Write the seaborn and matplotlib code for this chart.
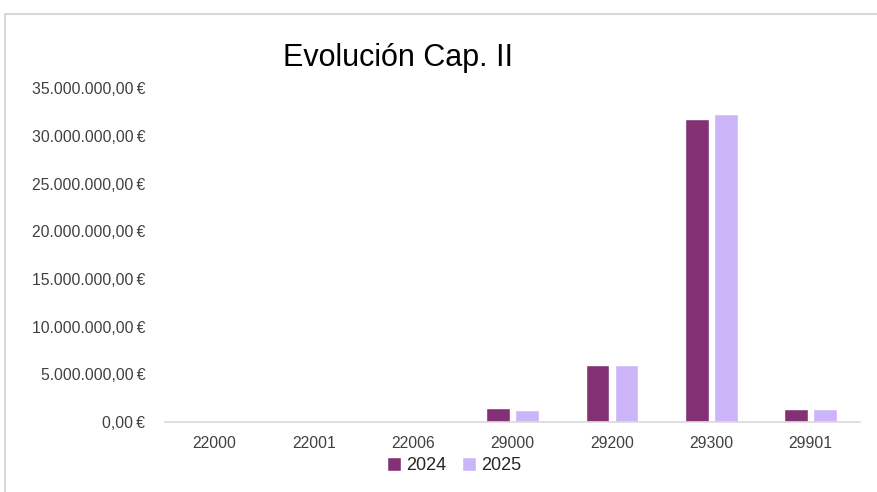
import pandas as pd
import numpy as np
import matplotlib
matplotlib.use("Agg")
import matplotlib.pyplot as plt
import matplotlib.ticker as mticker
from matplotlib.patches import Rectangle
import seaborn as sns

# datos
conceptos = ['22000', '22001', '22006', '29000', '29200', '29300', '29901']
importe_2024 = [0, 0, 0, 1470000, 5970000, 31800000, 1360000]
importe_2025 = [0, 0, 0, 1260000, 6000000, 32300000, 1360000]
anios = ['2024', '2025']
colores = ['#833174', '#CBB5F8']

df = pd.DataFrame({
    'Concepto': conceptos * 2,
    'Importe': importe_2024 + importe_2025,
    'Año': [anios[0]] * len(conceptos) + [anios[1]] * len(conceptos),
})

sns.set_style("white")
plt.rcParams['font.family'] = ['Liberation Sans', 'DejaVu Sans']

fig = plt.figure(figsize=(8.77, 4.92), dpi=100)
ax = fig.add_axes([0.188, 0.142, 0.793, 0.679])

sns.barplot(data=df, x='Concepto', y='Importe', hue='Año', palette=colores,
            width=0.58, gap=0.18, ax=ax, saturation=1)

ax.set_ylim(0, 35000000)
ax.yaxis.set_major_locator(mticker.MultipleLocator(5000000))


def euros(v, pos):
    s = f"{v:,.2f}".replace(',', 'X').replace('.', ',').replace('X', '.')
    return s + "\u2009€"


ax.yaxis.set_major_formatter(mticker.FuncFormatter(euros))
ax.tick_params(axis='both', length=0, labelsize=11.3, colors='#404040')
ax.tick_params(axis='x', pad=10)
ax.tick_params(axis='y', pad=14)
ax.set_xlabel('')
ax.set_ylabel('')
for side in ['top', 'right', 'left']:
    ax.spines[side].set_visible(False)
ax.spines['bottom'].set_color('#d9d9d9')
ax.spines['bottom'].set_linewidth(1.2)

fig.text(0.454, 0.883, 'Evolución Cap. II', ha='center', va='center', fontsize=22, color='#000000')

ax.legend(loc='center', bbox_to_anchor=(0.416, -0.131), ncol=2, frameon=False,
          fontsize=13, handlelength=0.75, handleheight=0.75, handletextpad=0.3,
          columnspacing=0.9)

# marco del gráfico
fig.patches.append(Rectangle((5 / 877, -0.05), 1.0, 1 - 14 / 492 + 0.05,
                             transform=fig.transFigure, fill=False,
                             edgecolor='#d9d9d9', linewidth=1.5))

fig.savefig('out.png', dpi=100)
